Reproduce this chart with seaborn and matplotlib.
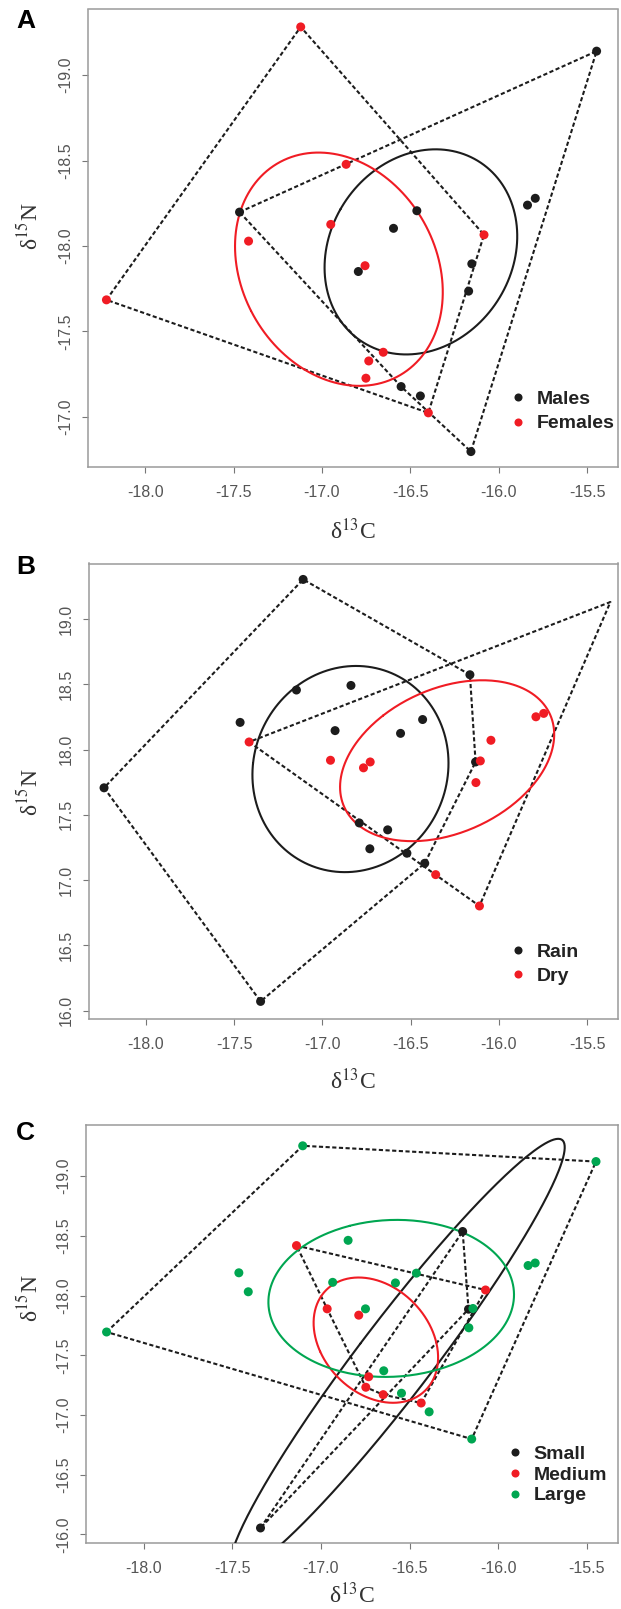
import numpy as np
import pandas as pd
import matplotlib
matplotlib.use("Agg")
import matplotlib.pyplot as plt
import seaborn as sns
from matplotlib.lines import Line2D

# ---------------- data ----------------
# Panel A (sex) - y values as printed on the axis (negative scale)
males_x = [-15.446, -17.466, -16.463, -16.595, -16.794, -15.837, -15.793, -16.152, -16.170, -16.552, -16.443, -16.157]
males_y = [-19.141, -18.198, -18.206, -18.103, -17.850, -18.239, -18.279, -17.895, -17.735, -17.176, -17.121, -16.795]
females_x = [-17.120, -18.219, -16.863, -16.950, -17.415, -16.756, -16.083, -16.653, -16.735, -16.751, -16.398]
females_y = [-19.283, -17.684, -18.478, -18.126, -18.028, -17.884, -18.065, -17.377, -17.326, -17.225, -17.022]
# standard ellipse of males (centre and shape matrix)
males_ellipse_center = [-16.44, -17.965]
males_ellipse_shape = [[0.297, -0.050], [-0.050, 0.361]]

# Panel B (season)
rain_x = [-17.109, -18.237, -17.350, -16.164, -17.147, -16.838, -17.466, -16.928, -16.557, -16.432, -16.132, -16.791, -16.630, -16.731, -16.521, -16.420]
rain_y = [19.303, 17.707, 16.071, 18.573, 18.456, 18.491, 18.208, 18.145, 18.124, 18.230, 17.905, 17.438, 17.385, 17.240, 17.206, 17.129]
dry_x = [-17.415, -16.954, -16.767, -16.729, -16.045, -15.790, -15.746, -16.105, -16.130, -16.358, -16.110, -15.368]
dry_y = [18.058, 17.918, 17.860, 17.905, 18.071, 18.251, 18.277, 17.913, 17.747, 17.042, 16.802, 19.130]
dry_drawn = [True] * 11 + [False]   # last point only appears as a hull vertex

# Panel C (size class)
small_x = [-16.201, -16.168, -17.341]
small_y = [-18.537, -17.886, -16.053]
medium_x = [-17.138, -16.072, -16.965, -16.787, -16.731, -16.747, -16.649, -16.435]
medium_y = [-18.419, -18.047, -17.889, -17.836, -17.320, -17.232, -17.170, -17.100]
large_x = [-17.103, -15.449, -18.209, -16.150, -16.847, -17.463, -17.410, -16.934, -16.580, -16.462,
           -16.749, -15.832, -15.792, -16.143, -16.166, -16.646, -16.546, -16.390]
large_y = [-19.255, -19.123, -17.695, -16.798, -18.463, -18.191, -18.032, -18.111, -18.106, -18.188,
           -17.889, -18.252, -18.273, -17.892, -17.730, -17.370, -17.182, -17.026]

x_ticks = [-18.0, -17.5, -17.0, -16.5, -16.0, -15.5]
yticks_A = [-19.0, -18.5, -18.0, -17.5, -17.0]
yticks_B = [16.0, 16.5, 17.0, 17.5, 18.0, 18.5, 19.0]
yticks_C = [-19.0, -18.5, -18.0, -17.5, -17.0, -16.5, -16.0]

BLACK = "#1c1c1c"
RED = "#f01c24"
GREEN = "#00a651"

# ---------------- style ----------------
sns.set_theme(style="white")
plt.rcParams["font.family"] = ["Liberation Sans", "DejaVu Sans"]
plt.rcParams["axes.unicode_minus"] = False
plt.rcParams["mathtext.fontset"] = "stix"

fig = plt.figure(figsize=(6.21, 16.09), dpi=100)
W, H = 621.0, 1609.0


def add_axes(left, right, top, bottom):
    return fig.add_axes([left / W, 1 - bottom / H, (right - left) / W, (bottom - top) / H])


def hull(xs, ys):
    pts = sorted(set(zip(xs, ys)))
    def cross(o, a, b):
        return (a[0] - o[0]) * (b[1] - o[1]) - (a[1] - o[1]) * (b[0] - o[0])
    lower, upper = [], []
    for p in pts:
        while len(lower) >= 2 and cross(lower[-2], lower[-1], p) <= 0:
            lower.pop()
        lower.append(p)
    for p in reversed(pts):
        while len(upper) >= 2 and cross(upper[-2], upper[-1], p) <= 0:
            upper.pop()
        upper.append(p)
    h = lower[:-1] + upper[:-1]
    h.append(h[0])
    return np.array(h)


def ellipse_from(center, shape, npts=300):
    evals, evecs = np.linalg.eigh(np.asarray(shape))
    t = np.linspace(0, 2 * np.pi, npts)
    circ = np.vstack([np.cos(t), np.sin(t)])
    e = evecs @ (np.diag(np.sqrt(evals)) @ circ)
    return center[0] + e[0], center[1] + e[1]


def sea_c(xs, ys):
    x = np.asarray(xs); y = np.asarray(ys)
    n = len(x)
    shape = np.cov(x, y) * (n - 1) / (n - 2)
    return ellipse_from((x.mean(), y.mean()), shape)


def draw_panel(ax, groups, ylim, yticks, letter, letter_xy, leg_anchor, leg_spacing, ylab_xy, xlab_y,
               ellipse_override=None):
    ellipse_override = ellipse_override or {}
    frames = []
    for name, xs, ys, col, drawn in groups:
        mask = drawn if drawn is not None else [True] * len(xs)
        frames.append(pd.DataFrame({"x": [a for a, m in zip(xs, mask) if m],
                                    "y": [b for b, m in zip(ys, mask) if m],
                                    "g": name}))
    df = pd.concat(frames, ignore_index=True)
    pal = {g[0]: g[3] for g in groups}
    for name, xs, ys, col, drawn in groups:
        h = hull(xs, ys)
        ax.plot(h[:, 0], h[:, 1], color=BLACK, lw=1.5, linestyle=(0, (2.0, 1.2)), zorder=2)
    for name, xs, ys, col, drawn in groups:
        if name in ellipse_override:
            ex, ey = ellipse_from(*ellipse_override[name])
        else:
            ex, ey = sea_c(xs, ys)
        ax.plot(ex, ey, color=col, lw=1.5, zorder=3)
    sns.scatterplot(data=df, x="x", y="y", hue="g", palette=pal, s=42, edgecolor="none",
                    legend=False, ax=ax, zorder=4)
    ax.set_xlim(-18.325, -15.325)
    ax.set_ylim(*ylim)
    ax.set_xticks(x_ticks)
    ax.set_xticklabels([f"{v:.1f}" for v in x_ticks])
    ax.set_yticks(yticks)
    ax.set_yticklabels([f"{v:.1f}" for v in yticks], rotation=90, va="center")
    ax.tick_params(axis="both", which="major", direction="out", length=4.5, width=0.8,
                   color="#777777", labelsize=11.5, labelcolor="#555555", left=True, bottom=True)
    ax.tick_params(axis="x", pad=8.5)
    ax.tick_params(axis="y", pad=6)
    for sp in ax.spines.values():
        sp.set_color("#9a9a9a")
        sp.set_linewidth(1.1)
    ax.set_xlabel("δ$^{13}$C", family="Liberation Serif", fontsize=17, color="#333333", va="center")
    ax.set_ylabel("δ$^{15}$N", family="Liberation Serif", fontsize=17, color="#333333", va="center")
    ax.xaxis.set_label_coords(0.5, xlab_y)
    ax.yaxis.set_label_coords(ylab_xy[0], ylab_xy[1])
    handles = [Line2D([0], [0], marker="o", linestyle="none", markersize=5.8,
                      markerfacecolor=g[3], markeredgecolor="none") for g in groups]
    leg = ax.legend(handles, [g[0] for g in groups], loc="upper left", bbox_to_anchor=leg_anchor,
                    frameon=False, handlelength=0.8, handletextpad=0.56, borderpad=0,
                    borderaxespad=0, labelspacing=leg_spacing,
                    prop={"family": "Liberation Sans", "weight": "bold", "size": 14})
    for t in leg.get_texts():
        t.set_color("#222222")
    fig.text(letter_xy[0] / W, 1 - letter_xy[1] / H, letter, fontsize=19, fontweight="bold",
             ha="center", va="center", color="black", family="Liberation Sans")


axA = add_axes(87.7, 618.0, 9.5, 467.3)
draw_panel(axA,
           [("Males", males_x, males_y, BLACK, None), ("Females", females_x, females_y, RED, None)],
           (-16.703, -19.385), yticks_A, "A", (25.8, 21.2), (0.797, 0.168), 0.35,
           (-0.1095, 0.5256), -0.139,
           ellipse_override={"Males": (males_ellipse_center, males_ellipse_shape)})

axB = add_axes(88.5, 618.0, 563.5, 1019.3)
draw_panel(axB,
           [("Rain", rain_x, rain_y, BLACK, None), ("Dry", dry_x, dry_y, RED, dry_drawn)],
           (15.934, 19.425), yticks_B, "B", (25.7, 566.5), (0.797, 0.167), 0.35,
           (-0.111, 0.4987), -0.1354)

axC = add_axes(86.0, 618.0, 1124.8, 1543.0)
draw_panel(axC,
           [("Small", small_x, small_y, BLACK, None), ("Medium", medium_x, medium_y, RED, None),
            ("Large", large_x, large_y, GREEN, None)],
           (-15.927, -19.431), yticks_C, "C", (25.7, 1133.5), (0.792, 0.2336), 0.16,
           (-0.106, 0.586), -0.126)

fig.savefig("out.png", dpi=100, facecolor="white")
